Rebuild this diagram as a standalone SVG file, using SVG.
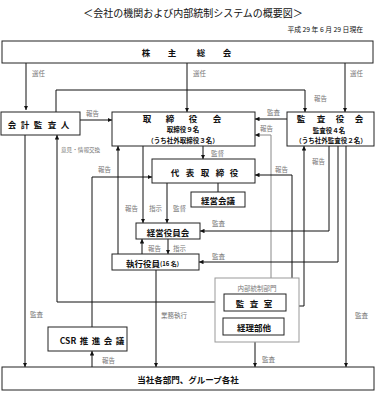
<svg xmlns="http://www.w3.org/2000/svg" width="384" height="399" viewBox="0 0 384 399">
<style>
text{font-family:"Noto Sans CJK JP","Noto Sans",sans-serif;fill:#111}
.b{font-weight:bold;font-size:8.5px}
.lb{font-size:6.5px;fill:#777}
.s{font-size:6.5px;font-weight:bold}
.box{fill:#fff;stroke:#222;stroke-width:1}
.c path{fill:none;stroke:#111;stroke-width:1}
</style>
<defs>
<marker id="a" viewBox="0 0 8 8" refX="8" refY="4" markerWidth="4.5" markerHeight="4.5" orient="auto-start-reverse" markerUnits="userSpaceOnUse"><path d="M0,0 L8,4 L0,8 z" fill="#111"/></marker>
</defs>
<rect width="384" height="399" fill="#fff"/>
<text x="193" y="12" font-size="10" text-anchor="middle" dominant-baseline="central">＜会社の機関および内部統制システムの概要図＞</text>
<text x="363" y="29" font-size="6.8" text-anchor="end" dominant-baseline="central">平成 29 年 6 月 29 日現在</text>

<g class="c">
<path d="M26,63 V110" marker-end="url(#a)"/>
<path d="M187,63 V112" marker-end="url(#a)"/>
<path d="M345,63 V112" marker-end="url(#a)"/>
<path d="M56,112 V90 H305 V112" marker-end="url(#a)"/>
<path d="M80,120 H112" marker-end="url(#a)"/>
<path d="M287,119 H255" marker-end="url(#a)"/>
<path d="M271,278 V135 H255" marker-end="url(#a)" style="stroke:#888"/>
<path d="M203,146 V159" marker-end="url(#a)"/>
<path d="M286,301 H292 V175 H255" marker-end="url(#a)"/>
<path d="M286,306 H304 V146" marker-end="url(#a)"/>
<path d="M329,146 V231 H200" marker-end="url(#a)"/>
<path d="M338,146 V262 H199" marker-end="url(#a)"/>
<path d="M346,146 V367" marker-end="url(#a)"/>
<path d="M25,135 V367" marker-end="url(#a)"/>
<path d="M57,135 V302 H224" marker-start="url(#a)" marker-end="url(#a)"/>
<path d="M92,327 V177 H152" marker-end="url(#a)"/>
<path d="M118,254 V146" marker-end="url(#a)"/>
<path d="M143,146 V223" marker-end="url(#a)"/>
<path d="M167,183 V223" marker-end="url(#a)"/>
<path d="M142,254 V239" marker-end="url(#a)"/>
<path d="M168,239 V254" marker-end="url(#a)"/>
<path d="M218,183 V192"/>
<path d="M156,270 V367" marker-end="url(#a)"/>
<path d="M92,367 V351" marker-end="url(#a)"/>
<path d="M255,342 V367" marker-end="url(#a)"/>
</g>

<g id="labels">
<text class="lb" x="32" y="73" dominant-baseline="central">選任</text>
<text class="lb" x="193" y="73" dominant-baseline="central">選任</text>
<text class="lb" x="350" y="73" dominant-baseline="central">選任</text>
<text class="lb" x="314" y="98" dominant-baseline="central">報告</text>
<text class="lb" x="86" y="113" dominant-baseline="central">報告</text>
<text class="lb" x="267" y="112" dominant-baseline="central">監査</text>
<text class="lb" x="260" y="128" dominant-baseline="central">報告</text>
<text class="lb" x="211" y="153" dominant-baseline="central">監督</text>
<text class="lb" x="275" y="169" dominant-baseline="central">報告</text>
<text class="lb" x="312" y="161" dominant-baseline="central">報告</text>
<text class="lb" x="61" y="150" dominant-baseline="central" style="font-size:5.6px">意見・情報交換</text>
<text class="lb" x="98" y="169" dominant-baseline="central">報告</text>
<text class="lb" x="125" y="208" dominant-baseline="central">報告</text>
<text class="lb" x="149" y="208" dominant-baseline="central">指示</text>
<text class="lb" x="173" y="208" dominant-baseline="central">監督</text>
<text class="lb" x="212" y="223" dominant-baseline="central">監査</text>
<text class="lb" x="148" y="248" dominant-baseline="central">報告</text>
<text class="lb" x="173" y="248" dominant-baseline="central">指示</text>
<text class="lb" x="212" y="256" dominant-baseline="central">監査</text>
<text class="lb" x="30" y="314" dominant-baseline="central">監査</text>
<text class="lb" x="161" y="315" dominant-baseline="central">業務執行</text>
<text class="lb" x="355" y="315" dominant-baseline="central">監査</text>
<text class="lb" x="102" y="360" dominant-baseline="central">報告</text>
<text class="lb" x="262" y="359" dominant-baseline="central">監査</text>
</g>

<g id="kabunushi">
<rect class="box" x="2" y="41" width="371" height="22"/>
<text class="b" x="146 172 201 227" y="52" text-anchor="middle" dominant-baseline="central">株主総会</text>
</g>
<g id="kaikei">
<rect class="box" x="1" y="112" width="79" height="23"/>
<text class="b" x="12 25 38 52 65" y="124" text-anchor="middle" dominant-baseline="central">会計監査人</text>
</g>
<g id="torishimariyakukai">
<rect class="box" x="112" y="112" width="143" height="34"/>
<text class="b" x="147 170 193 217" y="118" text-anchor="middle" dominant-baseline="central">取締役会</text>
<text class="s" x="183" y="129" text-anchor="middle" dominant-baseline="central">取締役９名</text>
<text class="s" x="183" y="139.5" text-anchor="middle" dominant-baseline="central">（うち社外取締役３名）</text>
</g>
<g id="kansayakukai">
<rect class="box" x="287" y="112" width="87" height="34"/>
<text class="b" x="301 321 340 359" y="118" text-anchor="middle" dominant-baseline="central">監査役会</text>
<text class="s" x="329" y="129.5" text-anchor="middle" dominant-baseline="central">監査役４名</text>
<text class="s" x="331" y="140" text-anchor="middle" dominant-baseline="central">（うち社外監査役２名）</text>
</g>
<g id="daihyo">
<rect class="box" x="152" y="159" width="103" height="24"/>
<text class="b" x="175 190 205 220 234" y="171.5" text-anchor="middle" dominant-baseline="central">代表取締役</text>
</g>
<g id="keieikaigi">
<rect class="box" x="191" y="192" width="54" height="15"/>
<text class="b" x="218" y="200" text-anchor="middle" dominant-baseline="central">経営会議</text>
</g>
<g id="keieiyakuinkai">
<rect class="box" x="136" y="223" width="64" height="16"/>
<text class="b" x="168" y="231.5" text-anchor="middle" dominant-baseline="central">経営役員会</text>
</g>
<g id="shikko">
<rect class="box" x="112" y="254" width="87" height="16"/>
<text class="b" x="126" y="262.5" dominant-baseline="central">執行役員<tspan style="font-size:6px">(16 名)</tspan></text>
</g>
<g id="naibu">
<rect x="215" y="278" width="84" height="64" fill="#fff" stroke="#999" stroke-width="1"/>
<text class="lb" x="257" y="288" text-anchor="middle" dominant-baseline="central">内部統制部門</text>
</g>
<g id="kansashitsu">
<rect class="box" x="224" y="294" width="62" height="17"/>
<text class="b" x="240 254 268" y="303" text-anchor="middle" dominant-baseline="central">監査室</text>
</g>
<g id="keiri">
<rect class="box" x="223" y="318" width="61" height="17"/>
<text class="b" x="254" y="327" text-anchor="middle" dominant-baseline="central">経理部他</text>
</g>
<g id="csr">
<rect class="box" x="48" y="327" width="79" height="24"/>
<text class="b" y="339.5" text-anchor="middle" dominant-baseline="central"><tspan x="68">CSR</tspan><tspan x="84">推</tspan><tspan x="96">進</tspan><tspan x="108">会</tspan><tspan x="120">議</tspan></text>
</g>
<g id="bumon">
<rect class="box" x="2" y="367" width="372" height="23"/>
<text class="b" x="188" y="379" text-anchor="middle" dominant-baseline="central">当社各部門、グループ各社</text>
</g>
</svg>
